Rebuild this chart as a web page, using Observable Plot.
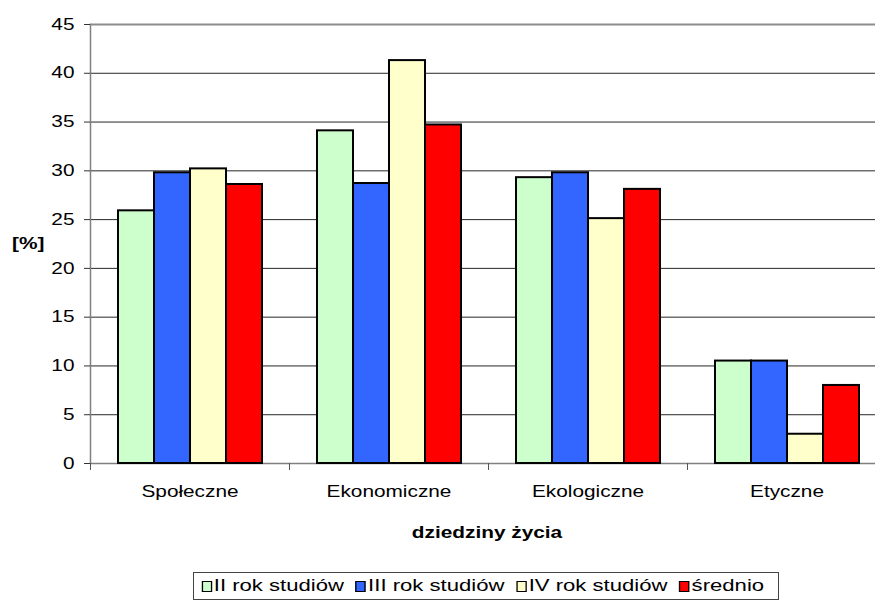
<!DOCTYPE html>
<html><head><meta charset="utf-8">
<script src="https://cdn.jsdelivr.net/npm/d3@7"></script>
<script src="https://cdn.jsdelivr.net/npm/@observablehq/plot@0.6"></script>
<style>
html,body{margin:0;padding:0;background:#fff;overflow:hidden;}
#wrap{position:relative;width:875px;height:602px;overflow:hidden;font-family:"Liberation Sans",Arial,sans-serif;color:#000;}
#chart{position:absolute;left:0;top:0;width:897px;}
#chart svg{max-width:none !important;}
.lbl{position:absolute;font-weight:bold;font-size:16px;line-height:16px;white-space:nowrap;}
#ylab{left:12px;top:236px;transform:scaleX(1.3);transform-origin:left center;}
#xlab{left:487px;top:525px;transform:translateX(-50%) scaleX(1.3);}
#legend{position:absolute;left:193px;top:572px;width:586px;height:28px;box-sizing:border-box;border:1px solid #444;background:#fff;}
#legend .inner{position:absolute;left:0;top:0;height:26px;display:flex;align-items:center;transform:scaleX(1.3);transform-origin:left center;padding-left:5.6px;font-size:17px;white-space:nowrap;}
#legend .item{display:flex;align-items:center;margin-right:9px;}
#legend .sw{width:6px;height:9px;border:1.8px solid #000;margin-right:1.6px;}
</style></head><body>
<div id="wrap">
  <div id="chart"></div>
  <div id="ylab" class="lbl">[%]</div>
  <div id="xlab" class="lbl">dziedziny życia</div>
  <div id="legend"><div class="inner"></div></div>
</div>
<script>
const categories = ["Społeczne", "Ekonomiczne", "Ekologiczne", "Etyczne"];
const series = ["II rok studiów", "III rok studiów", "IV rok studiów", "średnio"];
const seriesColors = ["#CCFFCC", "#3366FF", "#FFFFCC", "#FF0000"];
const valuesII = [25.9, 34.1, 29.3, 10.5];
const valuesIII = [29.8, 28.7, 29.8, 10.5];
const valuesIV = [30.2, 41.3, 25.1, 3.0];
const valuesAvg = [28.6, 34.7, 28.1, 8.0];
const yTicks = [0, 5, 10, 15, 20, 25, 30, 35, 40, 45];

const seriesValues = [valuesII, valuesIII, valuesIV, valuesAvg];
const data = categories.flatMap((c, i) => series.map((s, j) => ({cat: c, series: s, value: seriesValues[j][i]})));

const W = 897, H = 550, mL = 89, mR = 11, mT = 24, mB = 87;
const plotH = H - mT - mB;

const chart = Plot.plot({
  width: W, height: H,
  marginLeft: mL, marginRight: mR, marginTop: mT, marginBottom: mB,
  style: {fontFamily: "'Liberation Sans', Arial, sans-serif", fontSize: "16px", color: "#000", background: "transparent", overflow: "visible", maxWidth: "none"},
  fx: {domain: categories, padding: 0, label: null},
  x: {domain: series, paddingInner: 0, paddingOuter: 0.74, axis: null},
  y: {domain: [0, 45], label: null},
  color: {domain: series, range: seriesColors},
  marks: [
    Plot.gridY(yTicks.filter(v => v > 0 && v < 45), {stroke: "#000", strokeOpacity: 0.85, strokeWidth: 1}),
    Plot.ruleY([45], {stroke: "#8c8c8c", strokeWidth: 2}),
    Plot.ruleY([0], {stroke: "#808080", strokeWidth: 1.5}),
    Plot.frame({anchor: "left", facet: "super", stroke: "#808080", strokeWidth: 1.5}),
    Plot.frame({anchor: "left", stroke: "#555", strokeWidth: 1, insetTop: plotH, insetBottom: -6}),
    Plot.barY(data, {fx: "cat", x: "series", y: "value", fill: "series", stroke: "#000", strokeWidth: 2}),
    Plot.axisY(yTicks, {tickSize: 6, tickPadding: 10, label: null, stroke: "#333"}),
    Plot.axisFx({anchor: "bottom", tickSize: 0, tickPadding: 22, label: null})
  ]
});

chart.querySelectorAll("text").forEach(t => {
  const tr = t.getAttribute("transform") || "";
  t.setAttribute("transform", (tr + " scale(1.3,1)").trim());
});
document.getElementById("chart").appendChild(chart);

const inner = document.querySelector("#legend .inner");
series.forEach((s, i) => {
  const item = document.createElement("div");
  item.className = "item";
  const sw = document.createElement("div");
  sw.className = "sw";
  sw.style.background = seriesColors[i];
  const tx = document.createElement("span");
  tx.textContent = s;
  item.appendChild(sw); item.appendChild(tx);
  inner.appendChild(item);
});
</script>
</body></html>
